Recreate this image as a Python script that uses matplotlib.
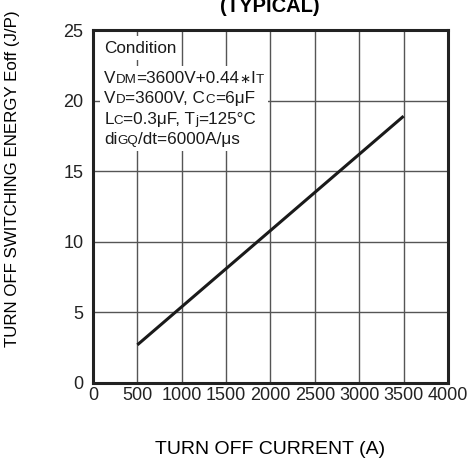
import matplotlib
matplotlib.use('Agg')
import matplotlib.pyplot as plt
from matplotlib.offsetbox import TextArea, HPacker, VPacker, AnchoredOffsetbox

plt.rcParams['font.family'] = ['Liberation Sans', 'DejaVu Sans']

# data
current = [500, 3500]        # turn off current (A)
energy = [2.7, 18.9]         # Eoff (J/P)
xticks = [0, 500, 1000, 1500, 2000, 2500, 3000, 3500, 4000]
yticks = [0, 5, 10, 15, 20, 25]

fig = plt.figure(figsize=(4.69, 4.59), dpi=100)
ax = fig.add_axes([0.1983, 0.1656, 0.7569, 0.769])

ax.plot(current, energy, color='#1a1a1a', lw=2.2, solid_capstyle='butt', zorder=3)

ax.set_xlim(0, 4000)
ax.set_ylim(0, 25)
ax.set_xticks(xticks)
ax.set_yticks(yticks)
ax.tick_params(length=0, labelsize=13, colors='#222222')
ax.tick_params(axis='x', pad=3)
ax.tick_params(axis='y', pad=7)
ax.grid(True, color='#555555', lw=1)
ax.set_axisbelow(True)
for s in ax.spines.values():
    s.set_linewidth(2.2)
    s.set_color('#222222')

ax.set_xlabel('TURN OFF CURRENT (A)', fontsize=14)
ax.xaxis.set_label_coords(0.5, -0.165)
ax.set_ylabel('TURN OFF SWITCHING ENERGY Eoff (J/P)', fontsize=12.2)
ax.yaxis.set_label_coords(-0.2056, 0.58)

# title is partly cut at the top edge, as in the reference
fig.text(270 / 469, 1 - 12 / 459, '(TYPICAL)', fontsize=14.5, fontweight='bold',
         ha='center', va='baseline')

# condition text block
big, small = 12.3, 9.6


def part(s, size):
    return TextArea(s, textprops=dict(fontsize=size, color='#1a1a1a'))


def line(parts):
    return HPacker(children=[part(s, sz) for s, sz in parts], align='baseline', pad=0, sep=0)


cond_lines = [
    [('V', big), ('DM', small), ('=3600V+0.44', big), ('\u2217', small), ('I', big), ('T', small)],
    [('V', big), ('D', small), ('=3600V, C', big), ('C', small), ('=6\u03bcF', big)],
    [('L', big), ('C', small), ('=0.3\u03bcF, T', big), ('j', small), ('=125\u00b0C', big)],
    [('di', big), ('GQ', small), ('/dt=6000A/\u03bcs', big)],
]

box1 = AnchoredOffsetbox(loc='upper left', child=part('Condition', big), pad=0.3,
                         borderpad=0, bbox_to_anchor=(0.02, 0.982),
                         bbox_transform=ax.transAxes, frameon=True)
box1.patch.set_facecolor('white')
box1.patch.set_edgecolor('none')
box1.zorder = 2
ax.add_artist(box1)

body = VPacker(children=[line(l) for l in cond_lines], align='left', pad=0, sep=4)
box2 = AnchoredOffsetbox(loc='upper left', child=body, pad=0.3, borderpad=0,
                         bbox_to_anchor=(0.02, 0.897),
                         bbox_transform=ax.transAxes, frameon=True)
box2.patch.set_facecolor('white')
box2.patch.set_edgecolor('none')
box2.zorder = 2
ax.add_artist(box2)

fig.savefig('out.png', dpi=100)
